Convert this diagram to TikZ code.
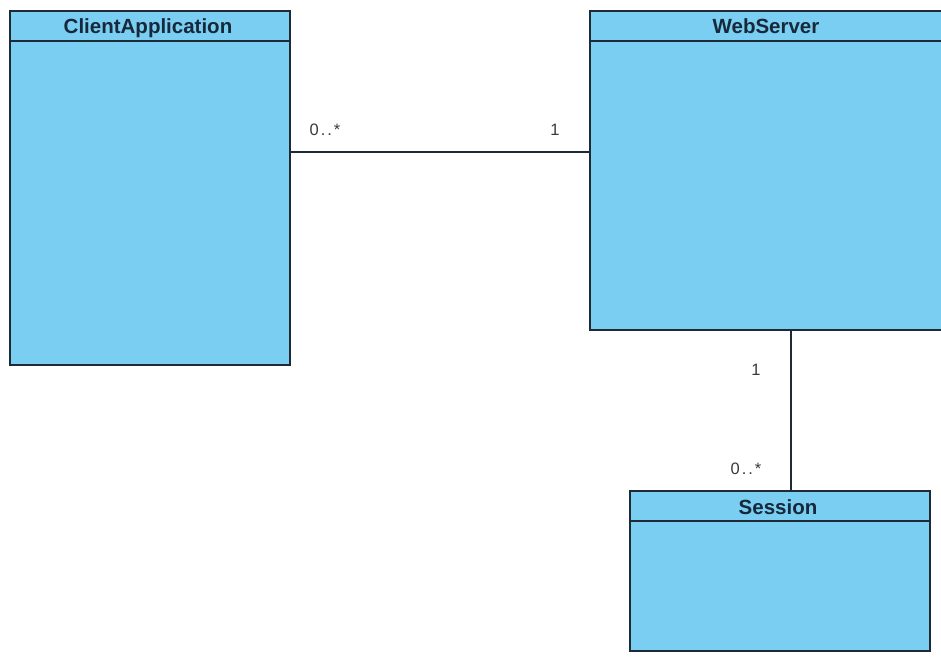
\documentclass[tikz,border=0pt]{standalone}
\usepackage{fontspec}
\setmainfont{Liberation Sans}
\begin{document}
\definecolor{classfill}{HTML}{7ACEF2}
\definecolor{classline}{HTML}{1E2A36}
\definecolor{titletext}{HTML}{16283A}
\definecolor{multtext}{HTML}{3A3A3A}
\begin{tikzpicture}[x=1pt,y=-1pt,
  classbox/.style={draw=classline,fill=classfill,line width=1.6pt},
  sep/.style={draw=classline,line width=1.4pt},
  title/.style={font=\bfseries\fontsize{20.5}{24}\selectfont,text=titletext,inner sep=0pt,anchor=base},
  assoc/.style={draw=classline,line width=1.5pt},
  mult/.style={font=\fontsize{16.5}{19}\selectfont\addfontfeatures{LetterSpace=12},text=multtext,inner sep=0pt,anchor=base}]
\useasboundingbox[fill=white] (0,0) rectangle (941,659);
\begin{scope}
\clip (0,0) rectangle (941,659);
% classes
\path[classbox] (10,11) rectangle (290,365);
\draw[sep] (10,41) -- (290,41);
\path[classbox] (590,11) rectangle (945,330);
\draw[sep] (590,41) -- (945,41);
\path[classbox] (630,491) rectangle (930,651);
\draw[sep] (630,521) -- (930,521);
\end{scope}
\node[title] (client) at (148,33) {ClientApplication};
\node[title] (server) at (766,33) {WebServer};
\node[title] (session) at (778,514) {Session};
% association anchors
\coordinate (ca) at (290,152);
\coordinate (wa) at (590,152);
\coordinate (wb) at (791,330);
\coordinate (sa) at (791,491);
\draw[assoc] (ca) -- (wa);
\draw[assoc] (wb) -- (sa);
\node[mult] (m1) at (325,135) {0..*};
\node[mult] (m2) at (555,135) {1};
\node[mult] (m3) at (756,375) {1};
\node[mult] (m4) at (746,474) {0..*};
\end{tikzpicture}
\end{document}
